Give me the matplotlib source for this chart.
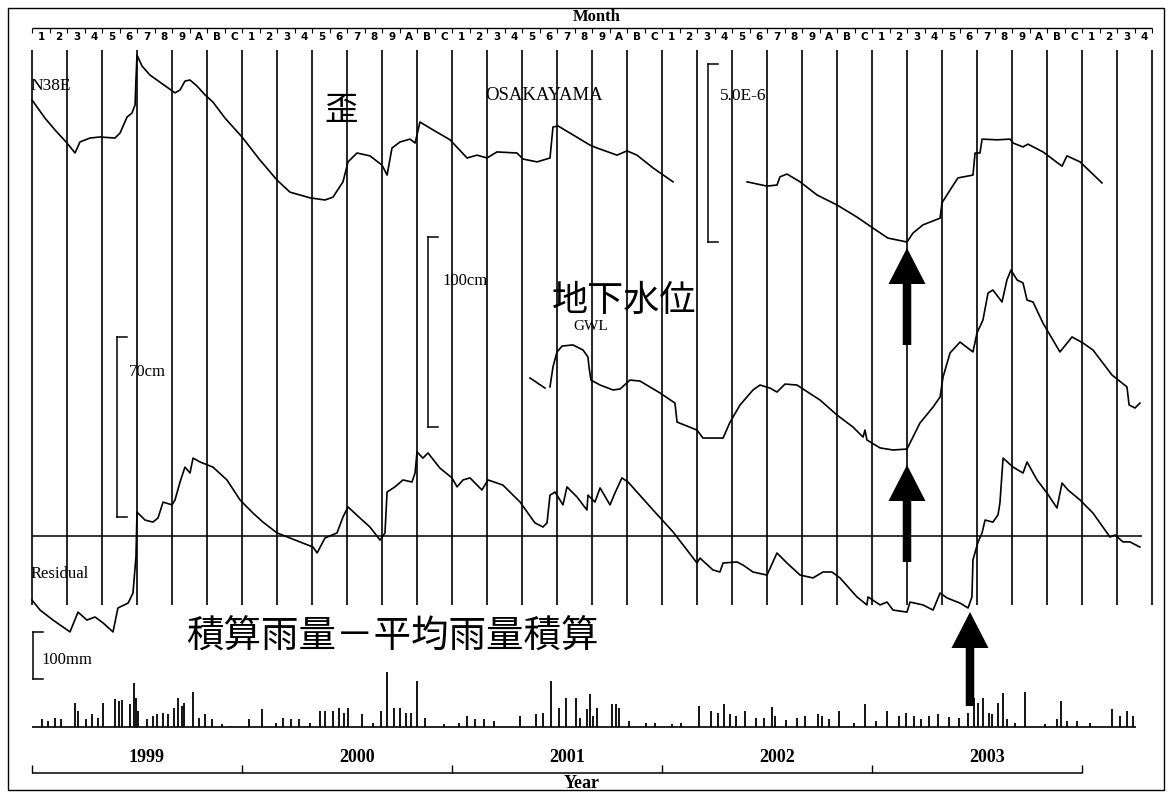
import matplotlib
matplotlib.use("Agg")
import matplotlib.pyplot as plt
from matplotlib.patches import FancyArrow, Rectangle

# ---------------- data (x = months since Jan 1999) ----------------
month_labels = list("123456789ABC") * 5 + list("1234")
years = ["1999", "2000", "2001", "2002", "2003"]

strain1_m = [0, 0.74, 1.31, 2.0, 2.46, 2.74, 3.31, 3.89, 4.74, 5.03, 5.43, 5.71, 5.89, 5.94, 6.0,
             6.29, 6.74, 7.31, 7.77, 8.17, 8.46, 8.74, 9.03, 9.43, 9.89, 10.34, 11.03, 12.0, 13.03,
             14.0, 14.74, 15.89, 16.74, 17.2, 17.77, 18.06, 18.57, 19.31, 20.0, 20.29, 20.57, 21.03,
             21.6, 21.89, 22.17, 22.74, 23.89, 24.86, 25.43, 26.0, 26.57, 27.71, 28.06, 28.86, 29.6,
             29.77, 30.06, 30.91, 31.89, 32.29, 33.43, 34.0, 34.57, 35.49, 36.63]
strain1_v = [3.99, 3.48, 3.15, 2.78, 2.5, 2.81, 2.92, 2.95, 2.92, 3.06, 3.51, 3.62, 3.85, 4.55, 5.25,
             4.94, 4.69, 4.49, 4.33, 4.19, 4.27, 4.52, 4.55, 4.38, 4.13, 3.93, 3.48, 2.95, 2.30,
             1.74, 1.40, 1.24, 1.18, 1.26, 1.69, 2.25, 2.5, 2.42, 2.16, 1.88, 2.64, 2.81,
             2.89, 2.78, 3.37, 3.2, 2.87, 2.36, 2.44, 2.36, 2.53, 2.5, 2.33, 2.25, 2.36,
             3.23, 3.26, 3.01, 2.72, 2.64, 2.44, 2.56, 2.44, 2.08, 1.69]
strain2_m = [40.86, 42.0, 42.57, 42.74, 43.14, 43.89, 44.86, 46.0, 47.14, 48.06, 48.91, 50.0, 50.34,
             50.91, 51.89, 52.0, 52.46, 52.91, 53.77, 53.89, 54.17, 54.29, 55.14, 55.89, 56.06,
             56.63, 56.91, 57.77, 58.86, 59.14, 59.89, 61.14]
strain2_v = [1.69, 1.57, 1.6, 1.83, 1.91, 1.69, 1.32, 1.04, 0.70, 0.39, 0.11, 0.0, 0.25,
             0.48, 0.67, 1.10, 1.46, 1.80, 1.88, 2.5, 2.5, 2.89, 2.87, 2.89, 2.78,
             2.67, 2.75, 2.53, 2.13, 2.42, 2.25, 1.66]

gwl1_m = [28.46, 29.31]
gwl1_v = [37.9, 32.6]
gwl2_m = [29.6, 29.77, 30.0, 30.29, 30.91, 31.49, 31.77, 31.83, 31.94, 32.46, 33.2, 33.6, 34.17,
          34.74, 35.89, 36.74, 36.86, 38.0, 38.34, 39.49, 39.89, 40.46, 41.2, 41.6, 42.17, 42.57,
          43.03, 43.71, 45.03, 46.0, 46.91, 47.49, 47.6, 47.71, 48.46, 49.2, 50.0, 50.74, 51.49,
          51.89, 52.06, 52.46, 53.03, 53.77, 54.0, 54.34, 54.63, 54.91, 55.43, 55.71, 55.94,
          56.29, 56.63, 56.86, 57.2, 57.77, 58.74, 59.43, 60.06, 60.63, 61.71, 62.57, 62.69,
          63.03, 63.31]
gwl2_v = [33.2, 43.7, 51.6, 54.7, 55.3, 52.6, 48.9, 43.7, 36.8, 34.2, 31.6, 32.1, 36.8,
          36.3, 30.0, 24.7, 14.7, 10.5, 6.3, 6.3, 14.7, 23.7, 31.6, 34.2, 32.6, 30.5,
          34.7, 34.2, 26.3, 18.4, 12.1, 6.8, 10.5, 5.3, 1.1, 0.0, 0.5, 14.2, 22.6,
          27.9, 38.4, 51.1, 56.8, 51.6, 61.6, 68.4, 82.6, 84.2, 77.9, 89.5, 94.7,
          89.5, 87.9, 78.9, 77.9, 66.8, 51.6, 59.5, 56.3, 52.6, 39.5, 33.2, 23.7,
          22.1, 24.7]

res_m = [0, 0.46, 1.2, 2.17, 2.63, 3.14, 3.6, 4.06, 4.63, 4.91, 5.49, 5.77, 5.94, 6.0, 6.46, 6.91,
         7.2, 7.49, 8.0, 8.17, 8.46, 8.74, 9.03, 9.2, 9.6, 10.34, 11.14, 11.89, 12.63, 13.2, 14.0,
         14.74, 15.31, 16.06, 16.29, 16.74, 17.43, 17.77, 18.06, 18.74, 19.31, 19.89, 20.17, 20.29,
         20.74, 21.2, 21.71, 21.89, 22.0, 22.34, 22.63, 23.31, 24.0, 24.29, 24.63, 25.03, 25.71,
         26.06, 26.91, 27.89, 28.74, 29.2, 29.43, 29.6, 29.89, 30.34, 30.57, 31.14, 31.71, 31.77,
         32.17, 32.46, 33.03, 33.31, 33.71, 34.06, 35.49, 36.63, 38.0, 38.17, 38.91, 39.31, 39.49,
         40.29, 40.63, 41.2, 42.0, 42.57, 43.14, 43.89, 44.63, 45.2, 45.71, 46.17, 47.14, 47.71,
         47.77, 48.46, 48.86, 49.2, 50.0, 50.17, 50.91, 51.49, 51.89, 52.29, 53.03, 53.49, 53.71,
         53.77, 54.06, 54.29, 54.46, 54.91, 55.2, 55.31, 55.49, 56.06, 56.63, 56.86, 57.43, 58.0,
         58.57, 58.86, 59.2, 59.89, 60.63, 61.6, 61.89, 62.34, 62.74, 63.31]
res_v = [-24.9, -28.8, -32.7, -37.3, -29.6, -32.7, -31.5, -33.8, -37.3, -28.0, -26.1, -22.2, -8.2,
         9.3, 6.2, 5.4, 7.0, 13.2, 12.1, 14.0, 21.0, 26.8, 24.5, 30.3, 28.8, 26.8, 21.8, 14.0, 8.9,
         5.4, 1.2, -0.8, -2.3, -4.3, -6.6, -0.8, 1.2, 7.4, 11.3, 7.0, 3.5, -1.6, 1.2, 17.1,
         19.1, 21.8, 21.0, 24.5, 32.7, 30.3, 32.3, 26.4, 22.6, 19.1, 21.8, 22.6, 17.9,
         21.8, 19.8, 13.2, 5.1, 3.5, 5.1, 15.9, 17.1, 12.1, 19.1, 15.2, 10.1, 15.9,
         13.2, 18.7, 12.1, 16.7, 22.6, 21.0, 10.1, 1.6, -10.5, -8.6, -13.2, -14.0, -10.5,
         -10.1, -11.3, -14.0, -15.2, -6.6, -10.5, -15.2, -16.3, -14.0, -14.0, -16.3, -23.7, -26.8,
         -23.7, -26.8, -25.7, -28.8, -29.6, -25.7, -26.8, -28.8, -22.2, -24.1, -26.1, -28.0, -23.7,
         -9.3, -2.3, 1.2, 6.2, 5.4, 8.2, 12.8, 30.3, 26.8, 24.5, 28.8, 21.8, 16.7,
         10.9, 20.6, 17.9, 14.0, 8.9, -0.4, 0.4, -2.3, -2.3, -4.3]

rain_m = [0.57, 0.91, 1.31, 1.66, 2.46, 2.63, 3.09, 3.43, 3.77, 4.06, 4.74, 4.97, 5.14, 5.6, 5.83,
          5.94, 6.06, 6.57, 6.91, 7.14, 7.49, 7.77, 8.11, 8.34, 8.57, 8.69, 9.2, 9.54, 9.89, 10.29,
          10.86, 11.31, 12.4, 13.14, 13.94, 14.34, 14.8, 15.26, 15.89, 16.46, 16.74, 17.2, 17.54,
          17.83, 18.06, 18.86, 19.49, 19.94, 20.29, 20.69, 21.03, 21.37, 21.66, 22.0, 22.46, 23.54,
          24.4, 24.86, 25.31, 25.83, 26.4, 27.89, 28.8, 29.2, 29.66, 30.11, 30.51, 31.09, 31.31,
          31.71, 31.89, 32.06, 32.29, 33.14, 33.37, 33.54, 34.11, 35.09, 35.6, 36.57, 37.09, 38.11,
          38.8, 39.2, 39.54, 39.89, 40.23, 40.74, 41.37, 41.83, 42.29, 42.46, 43.09, 43.71, 44.17,
          44.91, 45.14, 45.54, 46.11, 46.97, 47.6, 48.23, 48.86, 49.54, 49.94, 50.4, 50.8, 51.26,
          51.77, 52.4, 52.97, 53.49, 53.83, 54.06, 54.34, 54.69, 54.86, 55.2, 55.49, 55.71, 56.17,
          56.74, 57.89, 58.57, 58.8, 59.14, 59.71, 60.46, 61.71, 62.17, 62.57, 62.91]
rain_mm = [16, 13, 20, 16, 52, 34, 16, 27, 20, 52, 59, 55, 57, 48, 94,
           62, 34, 16, 23, 27, 30, 27, 41, 62, 45, 52, 75, 20, 27, 16,
           6, 2, 16, 38, 9, 20, 16, 16, 9, 34, 34, 34, 41,
           30, 41, 27, 9, 34, 116, 41, 41, 30, 30, 98, 20, 6,
           9, 23, 16, 16, 13, 23, 27, 30, 98, 41, 62, 62, 20,
           38, 70, 23, 41, 48, 48, 41, 13, 9, 9, 7, 9, 45,
           34, 30, 50, 27, 23, 34, 20, 20, 43, 23, 14, 20, 23,
           28, 23, 16, 34, 9, 48, 13, 35, 23, 30, 23, 18, 23,
           27, 21, 20, 30, 62, 52, 62, 30, 27, 52, 73, 16, 9,
           74, 7, 16, 55, 13, 13, 9, 38, 23, 34, 23]

arrow_months = [50.0, 50.0, 53.6]

# ---------------- layout ----------------
W, H = 1168, 795
PXM = 17.5      # pixels per month
X0 = 32         # pixel of Jan 1999
SERIF = ["Liberation Serif", "DejaVu Serif"]
CJK = ["Noto Sans CJK JP", "DejaVu Sans"]

fig = plt.figure(figsize=(W / 100, H / 100), dpi=100)
fig.patch.set_facecolor("white")


def new_ax(y0=None, s=None):
    ax = fig.add_axes([0, 0, 1, 1])
    ax.set_xlim(-X0 / PXM, (W - X0) / PXM)
    if y0 is None:
        ax.set_ylim(H, 0)
    else:
        ax.set_ylim((y0 - H) / s, y0 / s)
    ax.axis("off")
    ax.patch.set_alpha(0)
    return ax


def mx(px):
    return (px - X0) / PXM


base = new_ax()
ax_str = new_ax(242, 35.6)
ax_gwl = new_ax(450, 1.9)
ax_res = new_ax(536, 2.571)
ax_rain = new_ax(727, 0.47)

k = "black"
# outer frame
base.add_patch(Rectangle((mx(8), 8), mx(1164) - mx(8), 782, fill=False, lw=1.0, ec=k))

# month axis on top
base.text(mx(597), 17, "Month", ha="center", va="center", fontsize=12, family=SERIF, fontweight="bold")
n_m = len(month_labels)
base.hlines(28, 0, n_m, color=k, lw=1.0)
base.vlines(range(n_m + 1), 28, 33, color=k, lw=0.8)
for i, lab in enumerate(month_labels):
    base.text(i + 0.55, 37, lab, ha="center", va="center", fontsize=7.5, fontweight="bold",
              family=["DejaVu Sans"])

# vertical month grid lines (every two months)
base.vlines(range(0, n_m + 1, 2), 50, 605, color=k, lw=1.2)

# strain
ax_str.plot(strain1_m, strain1_v, color=k, lw=1.2)
ax_str.plot(strain2_m, strain2_v, color=k, lw=1.2)
ax_str.plot([38.63, 38.63], [0, 5], color=k, lw=1.1)
ax_str.plot([38.63, 39.2], [5, 5], color=k, lw=1.1)
ax_str.plot([38.63, 39.2], [0, 0], color=k, lw=1.1)

# GWL
ax_gwl.plot(gwl1_m, gwl1_v, color=k, lw=1.2)
ax_gwl.plot(gwl2_m, gwl2_v, color=k, lw=1.2)
ax_gwl.plot([22.63, 22.63], [12, 112], color=k, lw=1.1)
ax_gwl.plot([22.63, 23.2], [112, 112], color=k, lw=1.1)
ax_gwl.plot([22.63, 23.2], [12, 12], color=k, lw=1.1)

# residual
ax_res.hlines(0, 0, 63.4, color=k, lw=1.1)
ax_res.plot(res_m, res_v, color=k, lw=1.2)
ax_res.plot([4.86, 4.86], [7.4, 77.4], color=k, lw=1.1)
ax_res.plot([4.86, 5.43], [77.4, 77.4], color=k, lw=1.1)
ax_res.plot([4.86, 5.43], [7.4, 7.4], color=k, lw=1.1)

# rain
ax_rain.vlines(rain_m, 0, rain_mm, color=k, lw=1.3)
ax_rain.hlines(0, 0, 63.1, color=k, lw=1.2)
ax_rain.plot([0.06, 0.06], [102, 202], color=k, lw=1.1)
ax_rain.plot([0.06, 0.6], [202, 202], color=k, lw=1.1)
ax_rain.plot([0.06, 0.6], [102, 102], color=k, lw=1.1)

# arrows
arrow_specs = [(345, 248), (562, 465), (706, 612)]
for m, (tail, tip) in zip(arrow_months, arrow_specs):
    base.add_patch(FancyArrow(m, tail, 0, tip - tail, width=8.5 / PXM, head_width=37 / PXM,
                              head_length=36, length_includes_head=True, color=k, lw=0))

# year axis
base.hlines(773, 0, 60, color=k, lw=1.1)
base.vlines(range(0, 61, 12), 765, 773, color=k, lw=1.0)
for i, y in enumerate(years):
    base.text(i * 12 + 6.55, 757, y, ha="center", va="center", fontsize=13, family=SERIF,
              fontweight="bold")
base.text(mx(582), 784, "Year", ha="center", va="center", fontsize=13, family=SERIF, fontweight="bold")

# labels
base.text(mx(30), 86, "N38E", ha="left", va="center", fontsize=12.5, family=SERIF)
base.text(mx(341), 110, "歪", ha="center", va="center", fontsize=24, family=CJK)
base.text(mx(544), 95, "OSAKAYAMA", ha="center", va="center", fontsize=13.5, family=SERIF)
base.text(mx(720), 96, "5.0E-6", ha="left", va="center", fontsize=12.5, family=SERIF)
base.text(mx(442), 281, "100cm", ha="left", va="center", fontsize=12, family=SERIF)
base.text(mx(552), 301, "地下水位", ha="left", va="center", fontsize=26, family=CJK)
base.text(mx(591), 327, "GWL", ha="center", va="center", fontsize=11, family=SERIF)
base.text(mx(129), 372, "70cm", ha="left", va="center", fontsize=12, family=SERIF)
base.text(mx(31), 574, "Residual", ha="left", va="center", fontsize=12, family=SERIF)
base.text(mx(186), 637, "積算雨量－平均雨量積算", ha="left", va="center", fontsize=27, family=CJK)
base.text(mx(41), 660, "100mm", ha="left", va="center", fontsize=12, family=SERIF)

fig.savefig("out.png", dpi=100, facecolor="white")
